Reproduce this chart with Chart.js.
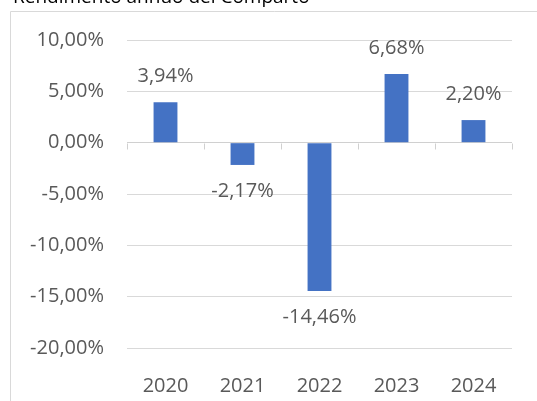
<!DOCTYPE html>
<html>
<head>
<meta charset="utf-8">
<script src="https://cdn.jsdelivr.net/npm/chart.js@4.4.1/dist/chart.umd.min.js"></script>
<style>
  html, body { margin: 0; padding: 0; background: #fff; overflow: hidden; }
  #wrap { position: relative; width: 537px; height: 401px; }
</style>
</head>
<body>
<div id="wrap"><canvas id="returnsChart" width="537" height="401"></canvas></div>
<script>
// Chart data
const years = ['2020', '2021', '2022', '2023', '2024'];
const returns = [3.94, -2.17, -14.46, 6.68, 2.20];
const yTicks = [10, 5, 0, -5, -10, -15, -20];
const chartTitle = 'Rendimento annuo del Comparto';

const fontFamily = '"Open Sans", sans-serif';
const textColor = '#595959';
const fontSize = 20;

function fmtPct(v) {
    return v.toFixed(2).replace('.', ',') + '%';
}

// Frame + cut-off title
const framePlugin = {
    id: 'frame',
    beforeDraw(chart) {
        const ctx = chart.ctx;
        ctx.save();
        ctx.strokeStyle = '#d9d9d9';
        ctx.lineWidth = 1;
        ctx.beginPath();
        ctx.moveTo(10.5, chart.height + 5);
        ctx.lineTo(10.5, 11.5);
        ctx.lineTo(chart.width + 5, 11.5);
        ctx.stroke();
        ctx.fillStyle = '#000';
        ctx.font = '19px ' + fontFamily;
        ctx.textBaseline = 'alphabetic';
        ctx.fillText(chartTitle, 13, 3);
        ctx.restore();
    }
};

// Zero line tick marks and value labels
const labelPlugin = {
    id: 'valueLabels',
    afterDatasetsDraw(chart) {
        const ctx = chart.ctx;
        const x = chart.scales.x;
        const y = chart.scales.y;
        const zero = Math.round(y.getPixelForValue(0)) + 0.5;
        const half = (x.getPixelForTick(1) - x.getPixelForTick(0)) / 2;
        ctx.save();
        ctx.strokeStyle = '#d0d0d0';
        ctx.lineWidth = 1;
        ctx.beginPath();
        for (let i = 0; i <= years.length; i++) {
            const px = Math.round(x.getPixelForTick(0) - half + i * half * 2) + 0.5;
            ctx.moveTo(px, zero);
            ctx.lineTo(px, zero + 6);
        }
        ctx.stroke();

        ctx.fillStyle = textColor;
        ctx.font = fontSize + 'px ' + fontFamily;
        ctx.textAlign = 'center';
        ctx.textBaseline = 'middle';
        chart.getDatasetMeta(0).data.forEach((bar, i) => {
            const v = returns[i];
            const py = v >= 0 ? bar.y - 26 : bar.y + 26;
            ctx.fillText(fmtPct(v), bar.x, py);
        });
        ctx.restore();
    }
};

const ctx = document.getElementById('returnsChart').getContext('2d');
new Chart(ctx, {
    type: 'bar',
    data: {
        labels: years,
        datasets: [{
            data: returns,
            backgroundColor: '#4472C4',
            borderWidth: 0,
            barPercentage: 0.31,
            categoryPercentage: 1
        }]
    },
    options: {
        responsive: false,
        animation: false,
        layout: { padding: { top: 40, right: 25, bottom: 0, left: 0 } },
        plugins: {
            legend: { display: false },
            tooltip: { enabled: false }
        },
        scales: {
            x: {
                grid: { display: false },
                border: { display: false },
                ticks: {
                    color: textColor,
                    font: { family: fontFamily, size: fontSize },
                    padding: 18
                },
                afterFit(scale) { scale.height = 53; }
            },
            y: {
                min: -20,
                max: 10,
                afterBuildTicks(scale) {
                    scale.ticks = yTicks.map(v => ({ value: v }));
                },
                grid: {
                    color: ctx => ctx.tick && ctx.tick.value === 0 ? '#d0d0d0' : '#d9d9d9',
                    drawTicks: false
                },
                border: { display: false },
                ticks: {
                    color: textColor,
                    font: { family: fontFamily, size: fontSize },
                    padding: 23,
                    callback: v => fmtPct(v)
                },
                afterFit(scale) { scale.width = 127; }
            }
        }
    },
    plugins: [framePlugin, labelPlugin]
});
</script>
</body>
</html>
